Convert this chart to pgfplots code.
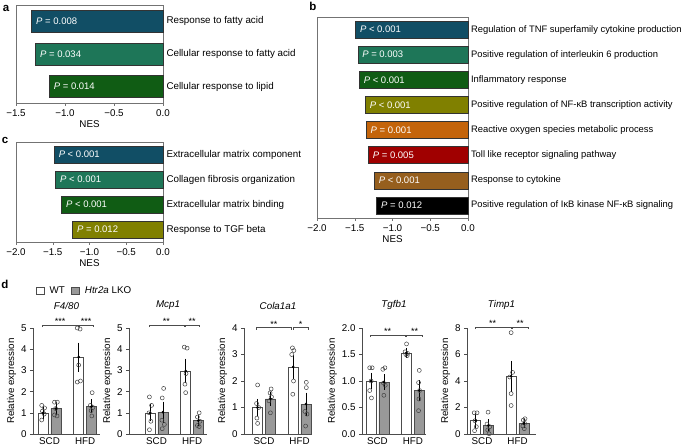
\documentclass[border=0pt]{standalone}
\usepackage{fontspec}
\setmainfont{Liberation Sans}
\usepackage{pgfplots}
\pgfplotsset{compat=1.18}
\definecolor{c1}{RGB}{17,78,101}
\definecolor{c2}{RGB}{30,118,88}
\definecolor{c3}{RGB}{16,92,20}
\definecolor{c4}{RGB}{128,128,0}
\definecolor{c5}{RGB}{196,100,10}
\definecolor{c6}{RGB}{160,0,0}
\definecolor{c7}{RGB}{150,95,30}
\definecolor{c8}{RGB}{0,0,0}
\pgfplotsset{
  every axis/.append style={font=\fontsize{9.8}{11.5}\selectfont, /pgf/number format/assume math mode=true},
  nes/.style={scale only axis, anchor=south west, xmax=0, ymin=0.5, y dir=reverse,
     axis line style={black!55}, xtick pos=bottom, xtick align=outside, major tick length=3pt,
     xtick style={black!55},
     yticklabel pos=right, ytick style={draw=none},
     xlabel={NES}, xlabel style={yshift=3pt}, clip=false},
  nesbar/.style={xbar, bar shift=0pt, draw=black!80, line width=0.4pt, nodes near coords={#1},
     every node near coord/.append style={anchor=west, text=white, xshift=1pt, font=\fontsize{9.5}{11}\selectfont}},
  relexp/.style={scale only axis, anchor=south west, height=106pt, ymin=0,
     axis lines*=left, axis line style={black!70}, ytick style={black!70},
     xtick={1,2}, xticklabels={SCD,HFD}, xtick style={draw=none},
     ytick align=outside, major tick length=3pt,
     ylabel={Relative expression}, ylabel style={yshift=-2pt}, clip=false,
     title style={font=\itshape\fontsize{9.8}{11.5}\selectfont, at={(0.5,1)}, anchor=south, yshift=9pt}},
  wt/.style={ybar, bar shift=0pt, bar width=0.28, fill=white, draw=black!70, line width=0.5pt},
  ko/.style={ybar, bar shift=0pt, bar width=0.28, fill=black!40, draw=black!70, line width=0.5pt},
  pts/.style={only marks, mark=o, mark size=2pt, mark options={black!75, line width=0.5pt, fill=none}},
  mse/.style={only marks, mark=*, mark size=1.1pt, black, error bars/.cd, y dir=both, y explicit,
     error bar style={black, line width=0.6pt}, error mark options={black, mark size=2.8pt, line width=0.6pt}},
  brk/.style={black!70, line width=0.5pt, mark=none},
}
\newcommand{\stars}[3]{\node[font=\fontsize{9}{10}\selectfont, inner sep=0.5pt, anchor=south] at (axis cs:#1,#2) {#3};}
\begin{document}
\begin{tikzpicture}[x=1pt,y=1pt]
\useasboundingbox (0,0) rectangle (689,447);
\node[font=\bfseries\fontsize{11.5}{13}\selectfont] at (6,439) {a};
\node[font=\bfseries\fontsize{11.5}{13}\selectfont] at (313,441) {b};
\node[font=\bfseries\fontsize{11.5}{13}\selectfont] at (5,307) {c};
\node[font=\bfseries\fontsize{11.5}{13}\selectfont] at (5,163) {d};

% ---------- panel a
\begin{axis}[nes, at={(16pt,344pt)}, width=147pt, height=98pt, xmin=-1.5, ymax=3.5,
  xtick={-1.5,-1,-0.5,0}, xticklabels={−1.5,−1.0,−0.5,0.0},
  ytick={1,2,3}, yticklabels={Response to fatty acid, Cellular response to fatty acid, Cellular response to lipid}]
\addplot[nesbar={\textit{P} = 0.008}, fill=c1, bar width=22pt] coordinates {(-1.34,1)};
\addplot[nesbar={\textit{P} = 0.034}, fill=c2, bar width=22pt] coordinates {(-1.30,2)};
\addplot[nesbar={\textit{P} = 0.014}, fill=c3, bar width=22pt] coordinates {(-1.16,3)};
\end{axis}

% ---------- panel b
\begin{axis}[nes, at={(317pt,229pt)}, width=151pt, height=201pt, xmin=-2, ymax=8.5,
  xtick={-2,-1.5,-1,-0.5,0}, xticklabels={−2.0,−1.5,−1.0,−0.5,0.0},
  yticklabel style={font=\fontsize{9.4}{11}\selectfont, xshift=-0.5pt},
  ytick={1,...,8}, yticklabels={Regulation of TNF superfamily cytokine production,
  Positive regulation of interleukin 6 production, Inflammatory response,
  Positive regulation of NF-κB transcription activity, Reactive oxygen species metabolic process,
  Toll like receptor signaling pathway, Response to cytokine, Positive regulation of IκB kinase NF-κB signaling}]
\addplot[nesbar={\textit{P} < 0.001}, fill=c1, bar width=17pt] coordinates {(-1.49,1)};
\addplot[nesbar={\textit{P} = 0.003}, fill=c2, bar width=17pt] coordinates {(-1.46,2)};
\addplot[nesbar={\textit{P} < 0.001}, fill=c3, bar width=17pt] coordinates {(-1.44,3)};
\addplot[nesbar={\textit{P} < 0.001}, fill=c4, bar width=17pt] coordinates {(-1.36,4)};
\addplot[nesbar={\textit{P} = 0.001}, fill=c5, bar width=17pt] coordinates {(-1.35,5)};
\addplot[nesbar={\textit{P} = 0.005}, fill=c6, bar width=17pt] coordinates {(-1.32,6)};
\addplot[nesbar={\textit{P} < 0.001}, fill=c7, bar width=17pt] coordinates {(-1.24,7)};
\addplot[nesbar={\textit{P} = 0.012}, fill=c8, bar width=17pt] coordinates {(-1.21,8)};
\end{axis}

% ---------- panel c
\begin{axis}[nes, at={(16pt,205pt)}, width=147pt, height=100pt, xmin=-2, ymax=4.5,
  xtick={-2,-1.5,-1,-0.5,0}, xticklabels={−2.0,−1.5,−1.0,−0.5,0.0},
  ytick={1,...,4}, yticklabels={Extracellular matrix component, Collagen fibrosis organization,
  Extracellular matrix binding, Response to TGF beta}]
\addplot[nesbar={\textit{P} < 0.001}, fill=c1, bar width=17pt] coordinates {(-1.48,1)};
\addplot[nesbar={\textit{P} < 0.001}, fill=c2, bar width=17pt] coordinates {(-1.46,2)};
\addplot[nesbar={\textit{P} < 0.001}, fill=c3, bar width=17pt] coordinates {(-1.38,3)};
\addplot[nesbar={\textit{P} = 0.012}, fill=c4, bar width=17pt] coordinates {(-1.23,4)};
\end{axis}

% ---------- panel d: F4/80
\begin{axis}[relexp, at={(33pt,13pt)}, width=67pt, xmin=0.535, xmax=2.42, ymax=5,
  ytick={0,...,5}, title={F4/80},
  legend image code/.code={\draw[#1] (0pt,-3.5pt) rectangle (7.5pt,3.5pt);},
  legend style={at={(axis description cs:0.045,1.349)}, anchor=west, draw=none, fill=none,
    legend columns=2, inner sep=0pt,
    /tikz/every odd column/.append style={column sep=3pt},
    /tikz/every even column/.append style={column sep=4pt},
    nodes={inner sep=2.5pt}}]
\addlegendimage{fill=white, draw=black!70, line width=0.5pt}
\addlegendimage{fill=black!40, draw=black!70, line width=0.5pt}
\legend{WT, \textit{Htr2a} LKO}
\addplot[wt] coordinates {(0.82,1.0)(1.82,3.63)};
\addplot[ko] coordinates {(1.18,1.2)(2.18,1.3)};
\addplot[pts] coordinates {(0.78,1.35)(0.86,1.23)(0.80,1.08)(0.85,0.94)(0.78,0.66)
  (1.14,1.5)(1.22,1.5)(1.17,1.2)(1.14,0.9)(1.21,0.85)
  (1.78,5.0)(1.86,4.95)(1.82,3.25)(1.78,2.45)(1.87,2.5)
  (2.20,1.95)(2.15,1.35)(2.22,1.25)(2.17,1.1)(2.19,0.85)};
\addplot[mse] coordinates {(0.82,1.0) +- (0,0.15) (1.18,1.2) +- (0,0.18) (1.82,3.63) +- (0,0.55) (2.18,1.3) +- (0,0.2)};
\addplot[brk] coordinates {(0.80,5.04)(0.80,5.14)(1.80,5.14)(1.80,5.04)};
\addplot[brk] coordinates {(1.84,5.04)(1.84,5.14)(2.22,5.14)(2.22,5.04)};
\stars{1.30}{5.14}{***}
\stars{2.03}{5.14}{***}
\end{axis}

% ---------- Mcp1
\begin{axis}[relexp, at={(129pt,13pt)}, width=78pt, xmin=0.225, xmax=2.42, ymax=5,
  ytick={0,...,5}, title={Mcp1}]
\addplot[wt] coordinates {(0.82,1.0)(1.82,2.97)};
\addplot[ko] coordinates {(1.18,1.03)(2.18,0.63)};
\addplot[pts] coordinates {(0.80,1.75)(0.86,1.35)(0.79,1.0)(0.84,0.6)(0.80,0.2)
  (1.20,2.15)(1.16,1.7)(1.15,0.65)(1.22,0.45)(1.16,0.25)
  (1.78,4.1)(1.86,4.05)(1.83,2.85)(1.80,2.35)(1.82,1.95)
  (2.20,1.0)(2.15,0.8)(2.22,0.6)(2.15,0.4)(2.20,0.35)};
\addplot[mse] coordinates {(0.82,1.0) +- (0,0.27) (1.18,1.03) +- (0,0.37) (1.82,2.97) +- (0,0.45) (2.18,0.63) +- (0,0.12)};
\addplot[brk] coordinates {(0.79,5.04)(0.79,5.14)(1.77,5.14)(1.77,5.04)};
\addplot[brk] coordinates {(1.80,5.04)(1.80,5.14)(2.20,5.14)(2.20,5.04)};
\stars{1.28}{5.14}{**}
\stars{2.00}{5.14}{**}
\end{axis}

% ---------- Cola1a1
\begin{axis}[relexp, at={(244pt,13pt)}, width=68pt, xmin=0.437, xmax=2.35, ymax=4,
  ytick={0,...,4}, title={Cola1a1}]
\addplot[wt] coordinates {(0.82,1.0)(1.82,2.53)};
\addplot[ko] coordinates {(1.18,1.33)(2.18,1.13)};
\addplot[pts] coordinates {(0.82,1.85)(0.79,1.15)(0.85,1.0)(0.80,0.6)(0.82,0.4)
  (1.20,1.7)(1.17,1.55)(1.21,1.4)(1.14,1.25)(1.18,0.8)
  (1.80,3.25)(1.84,3.15)(1.78,3.0)(1.83,2.0)(1.81,1.5)
  (2.19,1.95)(2.19,1.75)(2.15,0.85)(2.21,0.75)(2.17,0.3)};
\addplot[mse] coordinates {(0.82,1.0) +- (0,0.22) (1.18,1.33) +- (0,0.15) (1.82,2.53) +- (0,0.35) (2.18,1.13) +- (0,0.33)};
\addplot[brk] coordinates {(0.775,3.93)(0.775,4.01)(1.78,4.01)(1.78,3.93)};
\addplot[brk] coordinates {(1.81,3.93)(1.81,4.01)(2.25,4.01)(2.25,3.93)};
\stars{1.28}{4.01}{**}
\stars{2.03}{4.01}{*}
\end{axis}

% ---------- Tgfb1
\begin{axis}[relexp, at={(362pt,13pt)}, width=64pt, xmin=0.563, xmax=2.37, ymax=2,
  ytick={0,0.5,1,1.5,2}, yticklabel style={/pgf/number format/.cd, fixed, fixed zerofill, precision=1},
  title={Tgfb1}]
\addplot[wt] coordinates {(0.82,1.0)(1.82,1.53)};
\addplot[ko] coordinates {(1.18,0.98)(2.18,0.82)};
\addplot[pts] coordinates {(0.78,1.25)(0.85,1.25)(0.82,1.0)(0.78,0.82)(0.83,0.68)
  (1.15,1.22)(1.21,1.25)(1.17,0.96)(1.22,0.92)(1.18,0.73)
  (1.82,1.70)(1.78,1.55)(1.85,1.52)(1.80,1.50)(1.84,1.48)
  (2.18,1.2)(2.16,0.97)(2.19,0.82)(2.17,0.66)(2.16,0.44)};
\addplot[mse] coordinates {(0.82,1.0) +- (0,0.1) (1.18,0.98) +- (0,0.09) (1.82,1.53) +- (0,0.04) (2.18,0.82) +- (0,0.14)};
\addplot[brk] coordinates {(0.79,1.83)(0.79,1.87)(1.79,1.87)(1.79,1.83)};
\addplot[brk] coordinates {(1.82,1.83)(1.82,1.87)(2.27,1.87)(2.27,1.83)};
\stars{1.29}{1.87}{**}
\stars{2.05}{1.87}{**}
\end{axis}

% ---------- Timp1
\begin{axis}[relexp, at={(467pt,13pt)}, width=69pt, xmin=0.577, xmax=2.52, ymax=8,
  ytick={0,2,...,8}, title={Timp1}]
\addplot[wt] coordinates {(0.82,1.0)(1.82,4.35)};
\addplot[ko] coordinates {(1.18,0.65)(2.18,0.8)};
\addplot[pts] coordinates {(0.78,1.6)(0.86,1.6)(0.80,1.0)(0.84,0.55)(0.79,0.25)
  (1.17,1.65)(1.14,0.75)(1.22,0.55)(1.16,0.3)(1.20,0.02)
  (1.82,7.65)(1.86,4.65)(1.78,4.3)(1.82,3.05)(1.82,2.15)
  (2.21,1.15)(2.16,1.05)(2.20,0.8)(2.15,0.6)(2.19,0.4)};
\addplot[mse] coordinates {(0.82,1.0) +- (0,0.35) (1.18,0.65) +- (0,0.25) (1.82,4.35) +- (0,0.95) (2.18,0.8) +- (0,0.12)};
\addplot[brk] coordinates {(0.80,7.92)(0.80,8.08)(1.81,8.08)(1.81,7.92)};
\addplot[brk] coordinates {(1.845,7.92)(1.845,8.08)(2.29,8.08)(2.29,7.92)};
\stars{1.30}{8.08}{**}
\stars{2.07}{8.08}{**}
\end{axis}
\end{tikzpicture}
\end{document}
